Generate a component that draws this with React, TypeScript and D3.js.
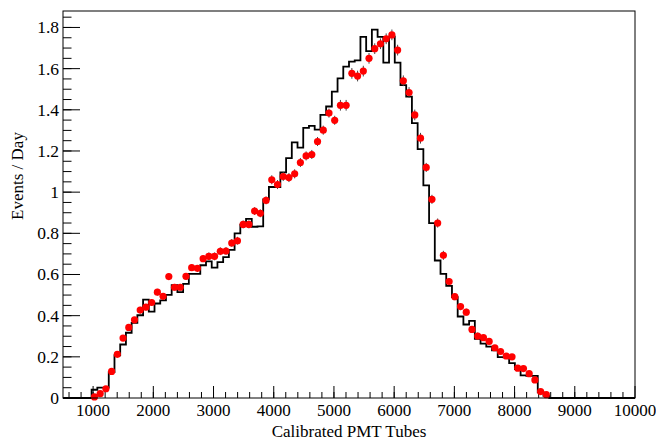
import { useRef, useEffect } from "react";
import * as d3 from "d3";

// histogram binning: 100 bins from 500 to 10000, data present from bin 5 on
const xMin = 500;
const xMax = 10000;
const nBins = 100;
const firstBin = 5;

// red points (data), one per bin starting at firstBin
const dataValues = [
	0.005, 0.021, 0.045, 0.129, 0.212, 0.291, 0.343, 0.38, 0.427, 0.441,
	0.464, 0.514, 0.494, 0.59, 0.538, 0.538, 0.591, 0.633, 0.63, 0.677,
	0.688, 0.688, 0.713, 0.714, 0.753, 0.764, 0.843, 0.843, 0.908, 0.897,
	0.96, 1.06, 1.037, 1.076, 1.071, 1.089, 1.144, 1.176, 1.183, 1.246,
	1.301, 1.384, 1.349, 1.422, 1.422, 1.577, 1.564, 1.588, 1.65, 1.697,
	1.721, 1.745, 1.764, 1.69, 1.541, 1.484, 1.375, 1.262, 1.12, 0.965,
	0.85, 0.693, 0.566, 0.492, 0.444, 0.417, 0.333, 0.301, 0.293, 0.275,
	0.244, 0.226, 0.204, 0.2, 0.145, 0.143, 0.118, 0.088, 0.031, 0.016,
];

const dataErrors = [
	0.008, 0.008, 0.008, 0.012, 0.012, 0.012, 0.012, 0.012, 0.016, 0.016,
	0.016, 0.016, 0.016, 0.016, 0.016, 0.016, 0.016, 0.016, 0.016, 0.016,
	0.019, 0.019, 0.019, 0.019, 0.019, 0.019, 0.019, 0.019, 0.019, 0.019,
	0.019, 0.022, 0.022, 0.022, 0.022, 0.022, 0.022, 0.022, 0.022, 0.022,
	0.022, 0.022, 0.022, 0.026, 0.026, 0.026, 0.026, 0.026, 0.026, 0.026,
	0.026, 0.026, 0.026, 0.026, 0.026, 0.026, 0.026, 0.026, 0.022, 0.022,
	0.022, 0.022, 0.017, 0.017, 0.017, 0.017, 0.017, 0.017, 0.013, 0.013,
	0.013, 0.013, 0.013, 0.013, 0.013, 0.013, 0.013, 0.013, 0.013, 0.013,
];

// black histogram (simulation), same bins
const mcValues = [
	0.04, 0.05, 0.05, 0.126, 0.207, 0.26, 0.317, 0.365, 0.402, 0.478,
	0.42, 0.459, 0.474, 0.501, 0.548, 0.514, 0.554, 0.603, 0.603, 0.645,
	0.664, 0.633, 0.66, 0.684, 0.72, 0.8, 0.842, 0.87, 0.832, 0.834,
	0.965, 1.025, 1.025, 1.096, 1.165, 1.242, 1.216, 1.312, 1.322, 1.304,
	1.375, 1.416, 1.488, 1.553, 1.61, 1.634, 1.64, 1.754, 1.685, 1.79,
	1.754, 1.629, 1.755, 1.629, 1.52, 1.464, 1.335, 1.209, 1.033, 0.85,
	0.668, 0.603, 0.545, 0.49, 0.396, 0.357, 0.375, 0.287, 0.264, 0.25,
	0.232, 0.199, 0.198, 0.169, 0.14, 0.11, 0.107, 0.107, 0.028, 0.01,
];

const xTicks = [1000, 2000, 3000, 4000, 5000, 6000, 7000, 8000, 9000, 10000];
const yTicks = [0, 0.2, 0.4, 0.6, 0.8, 1, 1.2, 1.4, 1.6, 1.8];
const yTickLabels = ["0", "0.2", "0.4", "0.6", "0.8", "1", "1.2", "1.4", "1.6", "1.8"];
const yMax = 1.88;

export default function App() {
	const svgRef = useRef(null);

	useEffect(() => {
		const width = 656,
			height = 442;
		const left = 63,
			right = 635,
			top = 11,
			bottom = 398;
		const font = "Liberation Serif, Times New Roman, Times, serif";

		const svg = d3
			.select(svgRef.current)
			.attr("width", width)
			.attr("height", height);

		svg.append("rect")
			.attr("width", width)
			.attr("height", height)
			.attr("fill", "white");

		const x = d3.scaleLinear().domain([xMin, xMax]).range([left, right]);
		const y = d3.scaleLinear().domain([0, yMax]).range([bottom, top]);
		const binW = (xMax - xMin) / nBins;
		const edge = (k) => xMin + k * binW;

		// minor ticks
		const xMinor = d3.range(600, xMax, 200);
		const yMinor = d3.range(0, yMax, 0.05);

		const g = svg.append("g").style("font-family", font);

		g.selectAll(".xminor")
			.data(xMinor)
			.enter()
			.append("line")
			.attr("x1", (d) => x(d))
			.attr("x2", (d) => x(d))
			.attr("y1", bottom)
			.attr("y2", bottom - 6)
			.attr("stroke", "black");

		g.selectAll(".xmajor")
			.data(xTicks)
			.enter()
			.append("line")
			.attr("x1", (d) => x(d))
			.attr("x2", (d) => x(d))
			.attr("y1", bottom)
			.attr("y2", bottom - 12)
			.attr("stroke", "black");

		g.selectAll(".yminor")
			.data(yMinor)
			.enter()
			.append("line")
			.attr("x1", left)
			.attr("x2", left + 8.5)
			.attr("y1", (d) => y(d))
			.attr("y2", (d) => y(d))
			.attr("stroke", "black");

		g.selectAll(".ymajor")
			.data(yTicks)
			.enter()
			.append("line")
			.attr("x1", left)
			.attr("x2", left + 17)
			.attr("y1", (d) => y(d))
			.attr("y2", (d) => y(d))
			.attr("stroke", "black");

		// tick labels
		g.selectAll(".xlab")
			.data(xTicks)
			.enter()
			.append("text")
			.attr("x", (d) => x(d))
			.attr("y", bottom + 18)
			.attr("text-anchor", "middle")
			.attr("font-size", 17)
			.text((d) => d);

		g.selectAll(".ylab")
			.data(yTicks)
			.enter()
			.append("text")
			.attr("x", left - 4)
			.attr("y", (d) => y(d))
			.attr("dy", "0.34em")
			.attr("text-anchor", "end")
			.attr("font-size", 17.5)
			.text((d, i) => yTickLabels[i]);

		// histogram
		const steps = [[xMin, 0]];
		mcValues.forEach((v, i) => steps.push([edge(firstBin + i), v]));
		steps.push([edge(firstBin + mcValues.length), 0]);
		steps.push([xMax, 0]);

		const line = d3
			.line()
			.x((d) => x(d[0]))
			.y((d) => y(d[1]))
			.curve(d3.curveStepAfter);

		g.append("path")
			.datum(steps)
			.attr("d", line)
			.attr("fill", "none")
			.attr("stroke", "black")
			.attr("stroke-width", 1.8);

		// data points with error bars
		const pts = dataValues.map((v, i) => ({
			x: edge(firstBin + i) + binW / 2,
			v,
			e: dataErrors[i],
		}));

		g.selectAll(".err")
			.data(pts)
			.enter()
			.append("line")
			.attr("x1", (d) => x(d.x))
			.attr("x2", (d) => x(d.x))
			.attr("y1", (d) => y(d.v - d.e))
			.attr("y2", (d) => y(d.v + d.e))
			.attr("stroke", "#444")
			.attr("stroke-width", 1);

		g.selectAll(".dot")
			.data(pts)
			.enter()
			.append("circle")
			.attr("cx", (d) => x(d.x))
			.attr("cy", (d) => y(d.v))
			.attr("r", 3.6)
			.attr("fill", "#ff0000");

		// frame
		g.append("rect")
			.attr("x", left)
			.attr("y", top)
			.attr("width", right - left)
			.attr("height", bottom - top)
			.attr("fill", "none")
			.attr("stroke", "black")
			.attr("stroke-width", 1);

		// axis titles
		g.append("text")
			.attr("x", (left + right) / 2)
			.attr("y", 437)
			.attr("text-anchor", "middle")
			.attr("font-size", 17)
			.text("Calibrated PMT Tubes");

		g.append("text")
			.attr("transform", "rotate(-90)")
			.attr("x", -176)
			.attr("y", 23)
			.attr("text-anchor", "middle")
			.attr("font-size", 17)
			.text("Events / Day");

		return () => {
			d3.select(svgRef.current).selectAll("*").remove();
		};
	}, []);

	return (
		<div style={{ position: "absolute", left: 0, top: 0 }}>
			<svg ref={svgRef} style={{ display: "block" }}></svg>
		</div>
	);
}
